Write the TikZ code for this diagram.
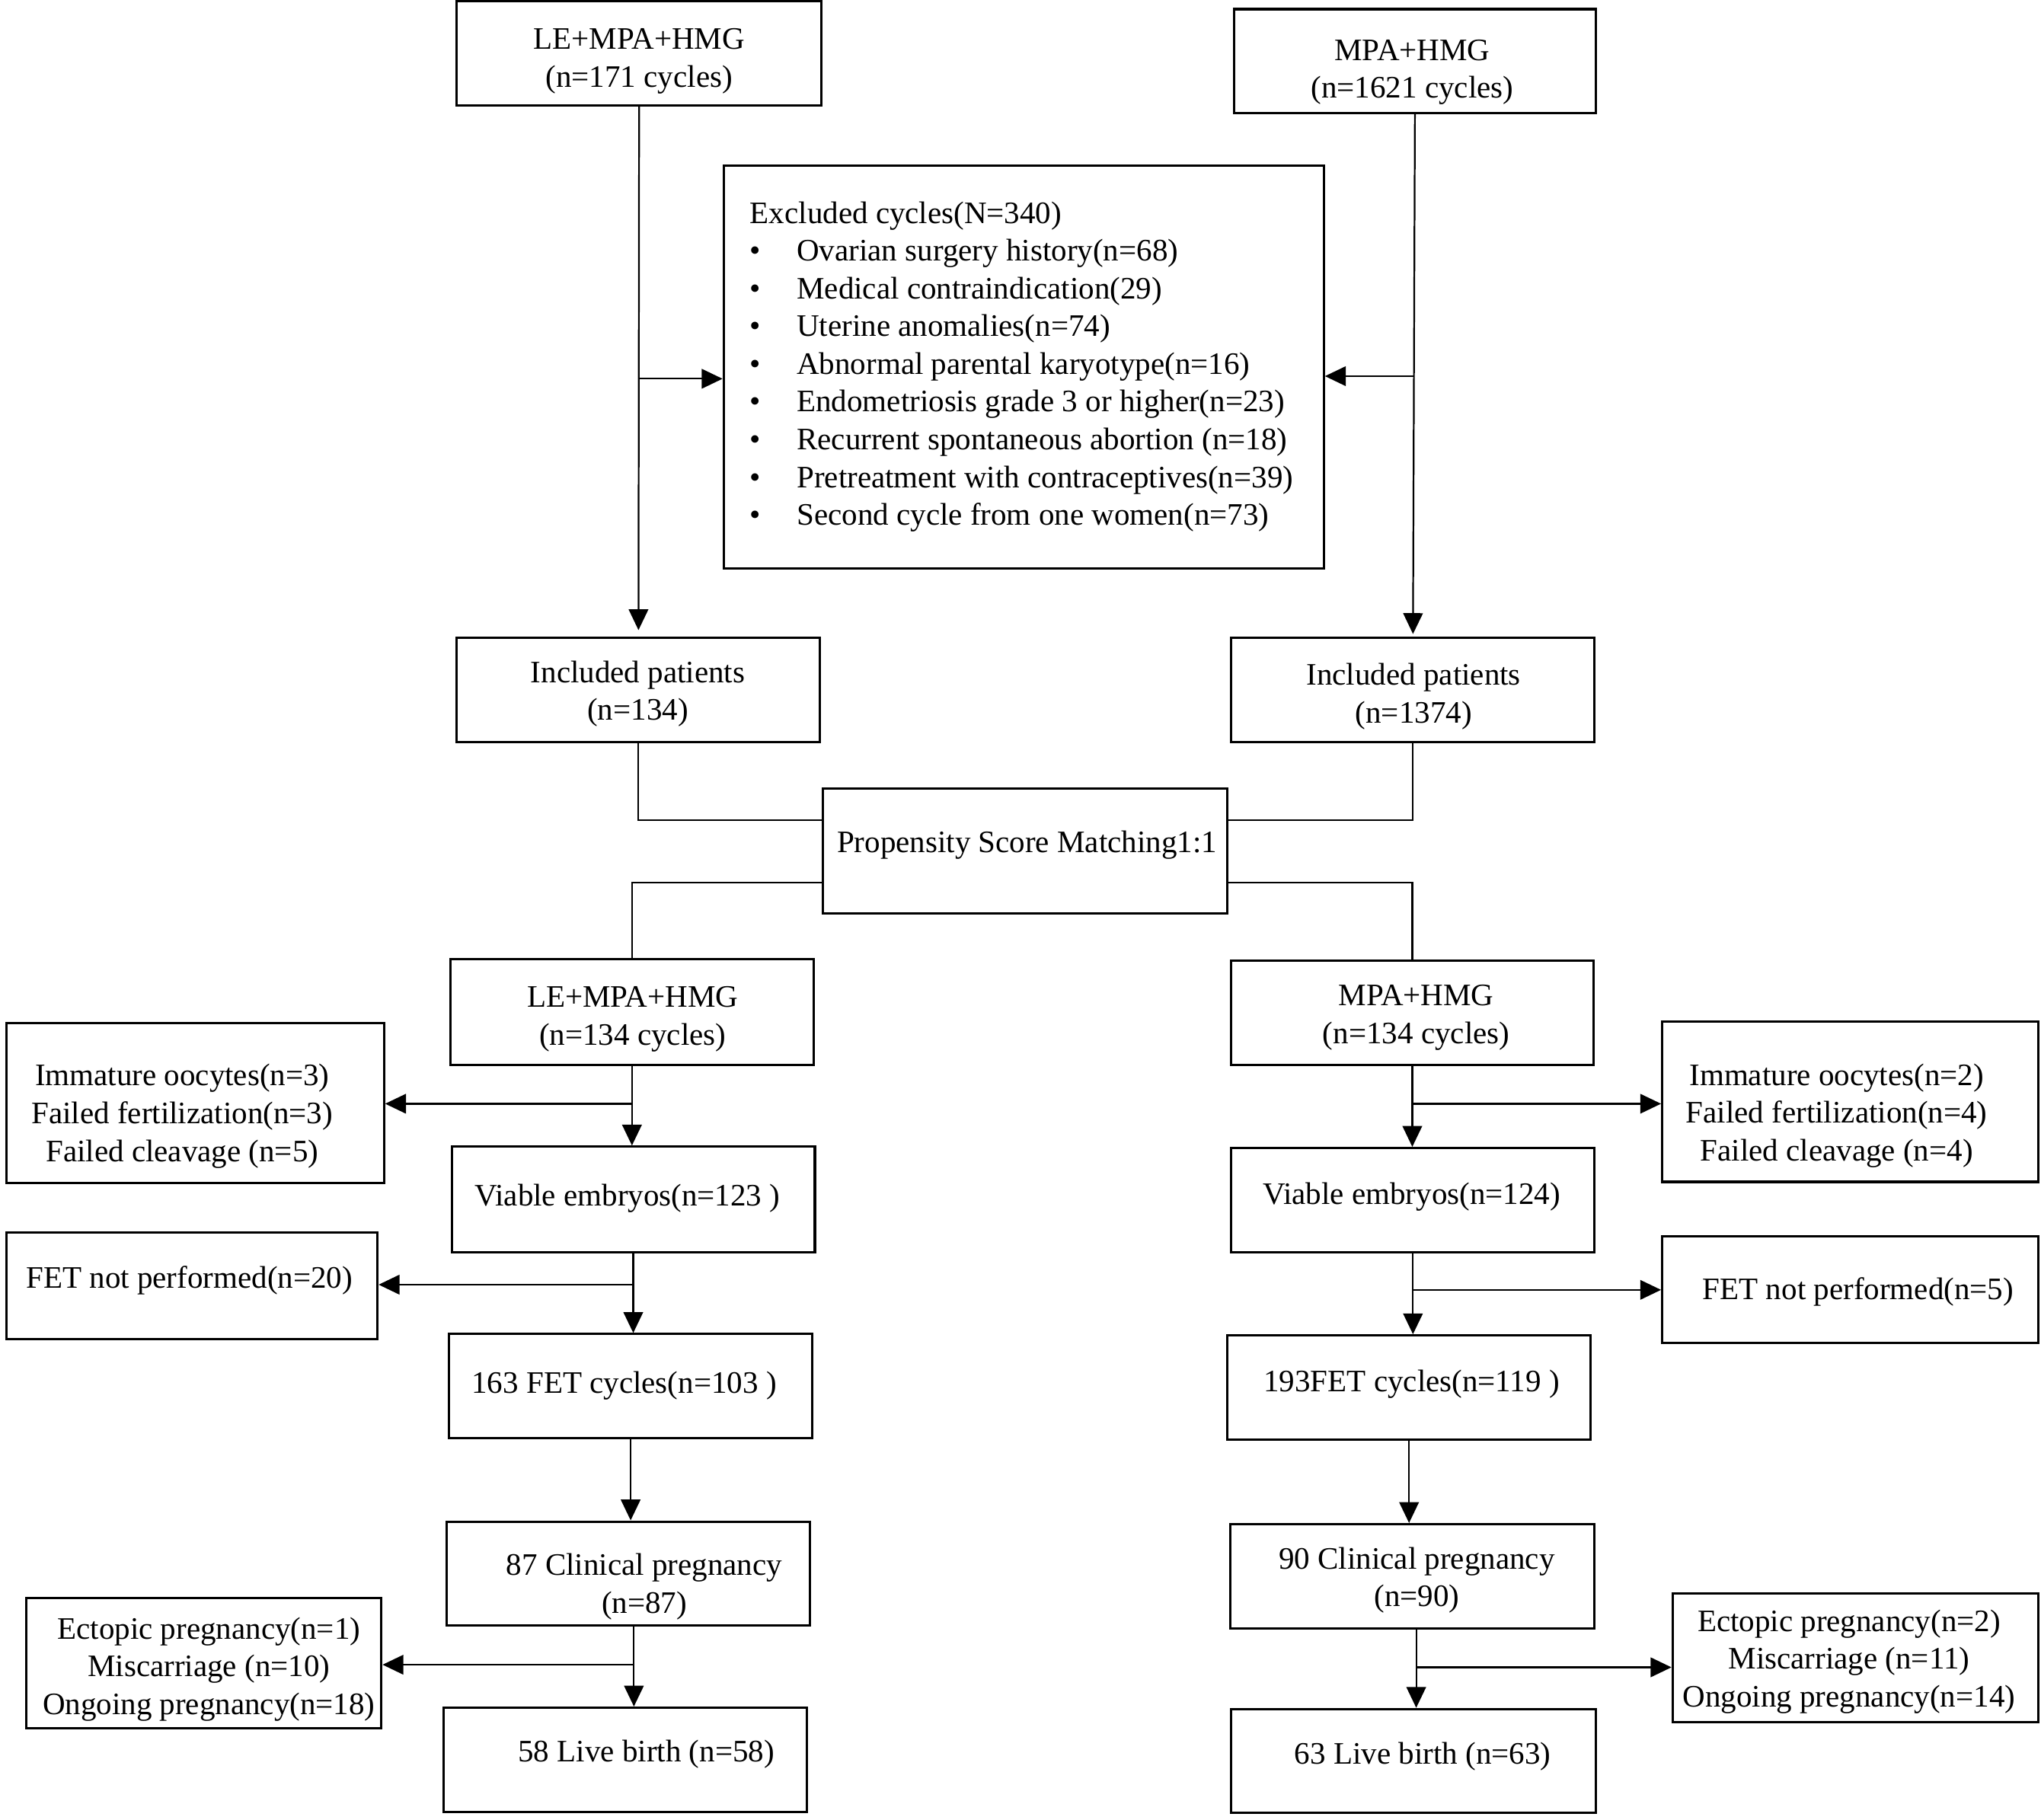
\documentclass[tikz,border=0pt]{standalone}
\usepackage{fontspec}
\setmainfont{Liberation Serif}
\usetikzlibrary{arrows.meta,calc}
\tikzset{
  box/.style={draw, line width=1.8pt, inner sep=0pt},
  lbl/.style={font=\fontsize{24}{29}\selectfont, align=center, inner sep=0pt, yshift=-2.5pt},
  conn/.style={line width=1.3pt},
  arr/.style={conn, -{Triangle[length=16pt,width=15pt]}},
}
\begin{document}
\begin{tikzpicture}[x=1pt,y=-1pt]
\useasboundingbox (0,0) rectangle (1568,1398);
% boxes
\node[box, minimum width=280pt, minimum height=80pt] (a1) at (491,41) {};
\node[box, minimum width=278pt, minimum height=80pt] (b1) at (1087,47) {};
\node[box, minimum width=461pt, minimum height=310pt] (exc) at (786.5,282) {};
\node[box, minimum width=279pt, minimum height=80pt] (a2) at (490.5,530) {};
\node[box, minimum width=279pt, minimum height=80pt] (b2) at (1085.5,530) {};
\node[box, minimum width=311pt, minimum height=96pt] (psm) at (787.5,654) {};
\node[box, minimum width=279pt, minimum height=81pt] (a3) at (485.5,777.5) {};
\node[box, minimum width=278pt, minimum height=80pt] (b3) at (1085,778) {};
\node[box, minimum width=290pt, minimum height=123pt] (l1) at (150,847.5) {};
\node[box, minimum width=289pt, minimum height=123pt] (r1) at (1421.5,846.5) {};
\node[box, minimum width=279pt, minimum height=81pt] (a4) at (486.5,921.5) {};
\node[box, minimum width=279pt, minimum height=80pt] (b4) at (1085.5,922) {};
\node[box, minimum width=285pt, minimum height=82pt] (l2) at (147.5,988) {};
\node[box, minimum width=289pt, minimum height=82pt] (r2) at (1421.5,991) {};
\node[box, minimum width=279pt, minimum height=80pt] (a5) at (484.5,1065) {};
\node[box, minimum width=279pt, minimum height=80pt] (b5) at (1082.5,1066) {};
\node[box, minimum width=279pt, minimum height=80pt] (a6) at (482.5,1209) {};
\node[box, minimum width=280pt, minimum height=80pt] (b6) at (1085,1211) {};
\node[box, minimum width=273pt, minimum height=100pt] (l3) at (156.5,1278) {};
\node[box, minimum width=281pt, minimum height=99pt] (r3) at (1425.5,1273.5) {};
\node[box, minimum width=279pt, minimum height=80pt] (a7) at (480.5,1352) {};
\node[box, minimum width=280pt, minimum height=80pt] (b7) at (1086,1353) {};
% labels
\node[lbl] (ta1) at (491,44.5) {LE+MPA+HMG\\(n=171 cycles)};
\node[lbl] (tb1) at (1085,53) {MPA+HMG\\(n=1621 cycles)};
\node[font=\fontsize{24}{29}\selectfont, inner sep=0pt, anchor=base west] (texc) at (576,171.5)
 {\begin{tabular}[t]{@{}l@{}l@{}}
 \multicolumn{2}{@{}l@{}}{Excluded cycles(N=340)}\\
 \makebox[36pt][l]{\textbullet}&Ovarian surgery history(n=68)\\
 \makebox[36pt][l]{\textbullet}&Medical contraindication(29)\\
 \makebox[36pt][l]{\textbullet}&Uterine anomalies(n=74)\\
 \makebox[36pt][l]{\textbullet}&Abnormal parental karyotype(n=16)\\
 \makebox[36pt][l]{\textbullet}&Endometriosis grade 3 or higher(n=23)\\
 \makebox[36pt][l]{\textbullet}&Recurrent spontaneous abortion (n=18)\\
 \makebox[36pt][l]{\textbullet}&Pretreatment with contraceptives(n=39)\\
 \makebox[36pt][l]{\textbullet}&Second cycle from one women(n=73)
 \end{tabular}};
\node[lbl] (ta2) at (490,530.5) {Included patients\\(n=134)};
\node[lbl] (tb2) at (1086,532.5) {Included patients\\(n=1374)};
\node[lbl] (tpsm) at (789,647) {Propensity Score Matching1:1};
\node[lbl] (ta3) at (486,780.5) {LE+MPA+HMG\\(n=134 cycles)};
\node[lbl] (tb3) at (1088,779.5) {MPA+HMG\\(n=134 cycles)};
\node[lbl] (tl1) at (140,855) {Immature oocytes(n=3)\\Failed fertilization(n=3)\\Failed cleavage (n=5)};
\node[lbl] (tr1) at (1411,854.5) {Immature oocytes(n=2)\\Failed fertilization(n=4)\\Failed cleavage (n=4)};
\node[lbl] (ta4) at (482,918) {Viable embryos(n=123 )};
\node[lbl] (tb4) at (1084.5,917) {Viable embryos(n=124)};
\node[lbl] (tl2) at (145.5,981) {FET not performed(n=20)};
\node[lbl] (tr2) at (1427.5,990) {FET not performed(n=5)};
\node[lbl] (ta5) at (479.5,1062) {163 FET cycles(n=103 )};
\node[lbl] (tb5) at (1084.5,1061) {193FET cycles(n=119 )};
\node[lbl] (ta6) at (495,1216.5) {87 Clinical pregnancy\\(n=87)};
\node[lbl] (tb6) at (1088.5,1211.5) {90 Clinical pregnancy\\(n=90)};
\node[lbl] (tl3) at (160.5,1280) {Ectopic pregnancy(n=1)\\Miscarriage (n=10)\\Ongoing pregnancy(n=18)};
\node[lbl] (tr3) at (1420.5,1274) {Ectopic pregnancy(n=2)\\Miscarriage (n=11)\\Ongoing pregnancy(n=14)};
\node[lbl] (ta7) at (496.5,1345) {58 Live birth (n=58)};
\node[lbl] (tb7) at (1093,1347) {63 Live birth (n=63)};
% connectors
\draw[arr, shorten >=5pt] (a1.south) -- (a2.north);
\coordinate (j1) at (491,291);
\draw[arr] (j1) -- (j1 -| exc.west);
\draw[arr, shorten >=2pt] (b1.south) -- (b2.north);
\coordinate (j2) at (1086,289);
\draw[arr] (j2) -- (j2 -| exc.east);
\draw[conn] (a2.south) |- ([yshift=24pt]psm.west);
\draw[conn] (b2.south) |- ([yshift=24pt]psm.east);
\draw[conn] ([yshift=-24pt]psm.west) -| (a3.north);
\draw[conn] ([yshift=-24pt]psm.east) -| (b3.north);
\draw[arr] (a3.south) -- (a3.south |- a4.north);
\coordinate (j3) at (485.5,848);
\draw[arr] (j3) -- (j3 -| l1.east);
\draw[arr] (b3.south) -- (b3.south |- b4.north);
\coordinate (j4) at (1085,848);
\draw[arr] (j4) -- (j4 -| r1.west);
\draw[arr] (a4.south) -- (a4.south |- a5.north);
\coordinate (j5) at (486.5,987);
\draw[arr] (j5) -- (j5 -| l2.east);
\draw[arr] (b4.south) -- (b4.south |- b5.north);
\coordinate (j6) at (1085.5,991);
\draw[arr] (j6) -- (j6 -| r2.west);
\draw[arr] (a5.south) -- (a5.south |- a6.north);
\draw[arr] (b5.south) -- (b5.south |- b6.north);
\coordinate (j7) at (487,1279);
\draw[arr] (a6.south -| j7) -- (a7.north -| j7);
\draw[arr] (j7) -- (j7 -| l3.east);
\coordinate (j8) at (1088,1281);
\draw[arr] (b6.south -| j8) -- (b7.north -| j8);
\draw[arr] (j8) -- (j8 -| r3.west);
\end{tikzpicture}
\end{document}
